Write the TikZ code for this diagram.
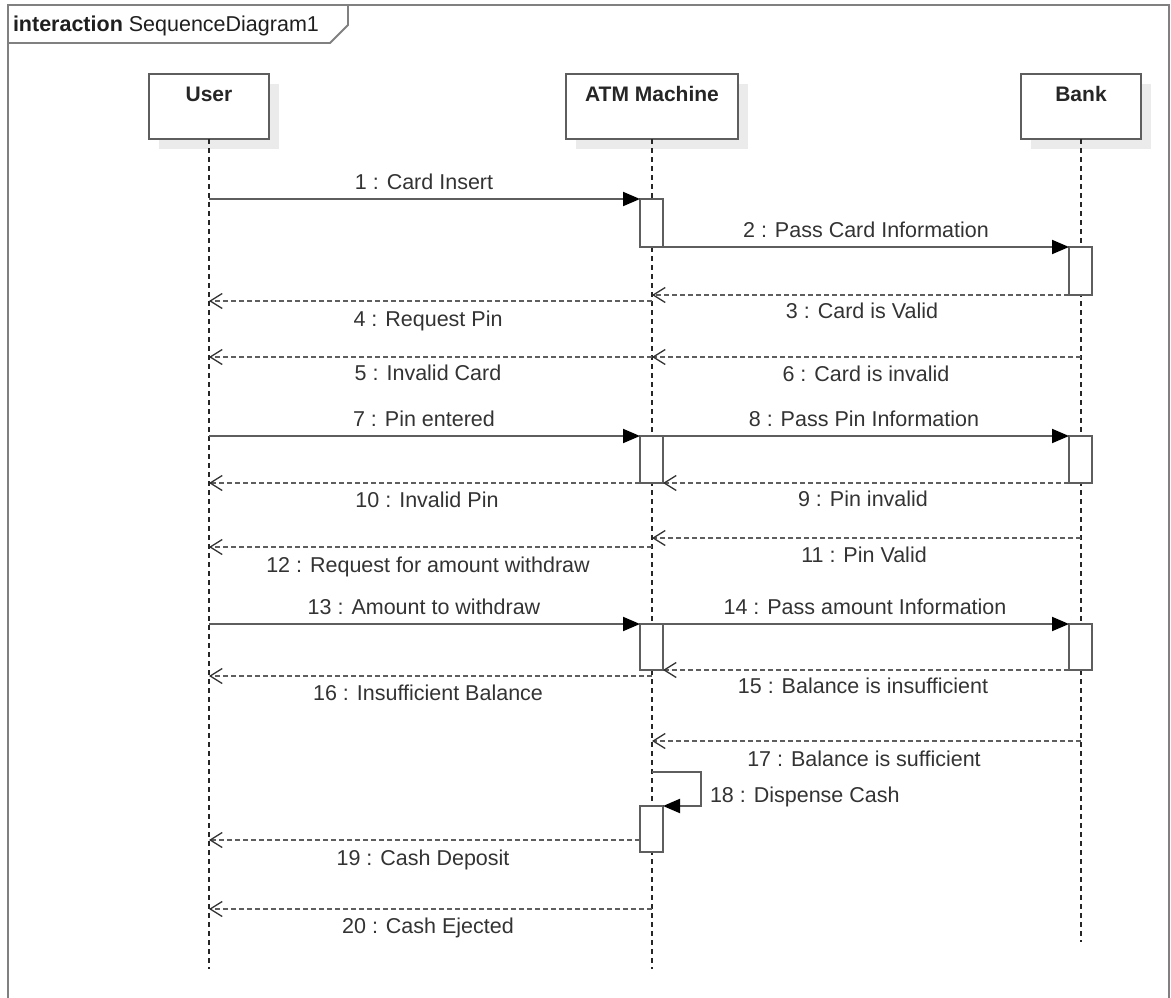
\documentclass[tikz,border=0pt]{standalone}
\usepackage{fontspec}
\setmainfont{Liberation Sans}
\usetikzlibrary{arrows.meta}
\definecolor{txt}{HTML}{333333}
\definecolor{ln}{HTML}{5E5E5E}
\definecolor{frm}{HTML}{808080}
\begin{document}
\begin{tikzpicture}[x=1pt,y=-1pt,
  every node/.style={font=\fontsize{21.5}{25}\selectfont, text=txt, inner sep=0pt, outer sep=0pt},
  headbox/.style={draw=ln, line width=1.6pt, fill=white, minimum height=65pt},
  headshadow/.style={fill=black!8, draw=none},
  headlbl/.style={font=\bfseries\fontsize{21}{25}\selectfont, anchor=base, text=black!85},
  act/.style={draw=ln, line width=1.6pt, fill=white, minimum width=23pt},
  lifeln/.style={draw=black!85, line width=1.3pt, dash pattern=on 5pt off 4pt},
  msg/.style={draw=ln, line width=2pt, -{Triangle[length=17pt,width=14pt,color=black]}},
  ret/.style={draw=ln, line width=1.8pt, dash pattern=on 5pt off 3pt, -{Straight Barb[length=12pt,width=15pt,line width=1.3pt,color=txt]}},
  mlbl/.style={anchor=base}
]
\useasboundingbox (0,0) rectangle (1171,998);
% frame
\draw[frm, line width=1.8pt] (8,1002) -- (8,5) -- (1169,5) -- (1169,1002);
\draw[frm, line width=1.8pt] (8,43) -- (330,43) -- (348,25) -- (348,5);
\node[anchor=base west, text=black!88] (title) at (13,32) {\textbf{interaction} SequenceDiagram1};

% head shadows
\fill[headshadow] (159,84) rectangle (279,149);
\fill[headshadow] (576,84) rectangle (748,149);
\fill[headshadow] (1031,84) rectangle (1151,149);

% lifeline heads
\node[headbox, minimum width=120pt] (user) at (209,106.5) {};
\node[headbox, minimum width=172pt] (atm) at (652,106.5) {};
\node[headbox, minimum width=120pt] (bank) at (1081,106.5) {};
\node[headlbl] (userL) at (209,102) {User};
\node[headlbl] (atmL) at (652,102) {ATM Machine};
\node[headlbl] (bankL) at (1081,102) {Bank};

% lifelines
\coordinate (uEnd) at (209,969);
\coordinate (aEnd) at (652,969);
\coordinate (bEnd) at (1081,942);
\draw[lifeln] (user.south) -- (uEnd);
\draw[lifeln] (atm.south) -- (aEnd);
\draw[lifeln] (bank.south) -- (bEnd);

% activations
\node[act, minimum height=48pt] (a1) at (651.5,223) {};
\node[act, minimum height=48pt] (b1) at (1080.5,271) {};
\node[act, minimum height=47pt] (a2) at (651.5,459.5) {};
\node[act, minimum height=47pt] (b2) at (1080.5,459.5) {};
\node[act, minimum height=46pt] (a3) at (651.5,647) {};
\node[act, minimum height=46pt] (b3) at (1080.5,647) {};
\node[act, minimum height=46pt] (a4) at (651.5,829) {};

% message anchor coordinates
\coordinate (m4) at (652,301);
\coordinate (m5) at (652,357);
\coordinate (m6) at (1081,357);
\coordinate (m11) at (1081,538);
\coordinate (m12) at (652,547);
\coordinate (m16) at (652,676);
\coordinate (m17) at (1081,741);
\coordinate (m18) at (652,772);
\coordinate (m18c) at (701,806);
\coordinate (m19) at (652,840);
\coordinate (m20) at (652,909);

% messages
\draw[msg] (user.south |- a1.north west) -- (a1.north west);
\draw[msg] (a1.south east) -- (a1.south east -| b1.north west);
\draw[ret] (b1.south west) -- (b1.south west -| atm.south);
\draw[ret] (m4) -- (m4 -| user.south);
\draw[ret] (m5) -- (m5 -| user.south);
\draw[ret] (m6) -- (m6 -| atm.south);
\draw[msg] (user.south |- a2.north west) -- (a2.north west);
\draw[msg] (a2.north east) -- (a2.north east -| b2.north west);
\draw[ret] (b2.south west) -- (b2.south west -| a2.south east);
\draw[ret] (a2.south west) -- (a2.south west -| user.south);
\draw[ret] (m11) -- (m11 -| atm.south);
\draw[ret] (m12) -- (m12 -| user.south);
\draw[msg] (user.south |- a3.north west) -- (a3.north west);
\draw[msg] (a3.north east) -- (a3.north east -| b3.north west);
\draw[ret] (b3.south west) -- (b3.south west -| a3.south east);
\draw[ret] (m16) -- (m16 -| user.south);
\draw[ret] (m17) -- (m17 -| atm.south);
\draw[msg] (m18) -| (m18c) -- (a4.north east);
\draw[ret] (m19 -| a4.west) -- (m19 -| user.south);
\draw[ret] (m20) -- (m20 -| user.south);

% labels
\node[mlbl] (l1) at (424,189) {1 : Card Insert};
\node[mlbl] (l2) at (866,237) {2 : Pass Card Information};
\node[mlbl] (l3) at (862,318) {3 : Card is Valid};
\node[mlbl] (l4) at (428,326) {4 : Request Pin};
\node[mlbl] (l5) at (428,380) {5 : Invalid Card};
\node[mlbl] (l6) at (866,381) {6 : Card is invalid};
\node[mlbl] (l7) at (424,426) {7 : Pin entered};
\node[mlbl] (l8) at (864,426) {8 : Pass Pin Information};
\node[mlbl] (l9) at (863,506) {9 : Pin invalid};
\node[mlbl] (l10) at (427,507) {10 : Invalid Pin};
\node[mlbl] (l11) at (864,562) {11 : Pin Valid};
\node[mlbl] (l12) at (428,572) {12 : Request for amount withdraw};
\node[mlbl] (l13) at (424,614) {13 : Amount to withdraw};
\node[mlbl] (l14) at (865,614) {14 : Pass amount Information};
\node[mlbl] (l15) at (863,693) {15 : Balance is insufficient};
\node[mlbl] (l16) at (428,700) {16 : Insufficient Balance};
\node[mlbl] (l17) at (864,766) {17 : Balance is sufficient};
\node[anchor=base west] (l18) at (710,802) {18 : Dispense Cash};
\node[mlbl] (l19) at (423,865) {19 : Cash Deposit};
\node[mlbl] (l20) at (428,933) {20 : Cash Ejected};
\end{tikzpicture}
\end{document}
